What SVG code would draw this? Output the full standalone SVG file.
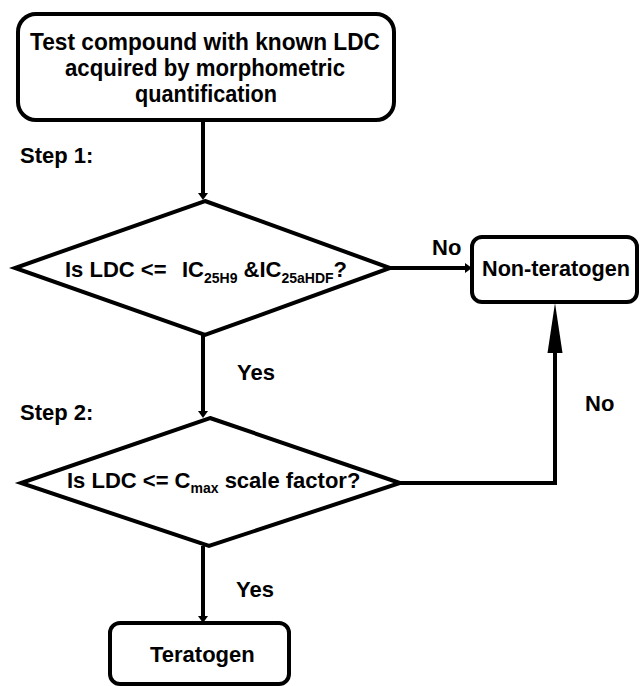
<svg xmlns="http://www.w3.org/2000/svg" width="640" height="686" viewBox="0 0 640 686">
<defs>
<style>
.shape{fill:#fff;stroke:#000;stroke-width:4;stroke-linejoin:miter}
.conn{fill:none;stroke:#000;stroke-width:4}
text{font-family:"Liberation Sans",Arial,sans-serif;font-weight:bold;fill:#000}
.t{font-size:24px;text-anchor:middle}
.lbl{font-size:22px}
.q{font-size:22px}
.sub{font-size:14px}
</style>
<marker id="arr" markerUnits="userSpaceOnUse" markerWidth="12" markerHeight="12" refX="0" refY="5" orient="auto" overflow="visible">
<path d="M0,0 L7,5 L0,10 Z" fill="#000"/>
</marker>
<marker id="bigarr" markerUnits="userSpaceOnUse" markerWidth="52" markerHeight="16" refX="0" refY="8" orient="auto" overflow="visible">
<path d="M0,0.5 L50,8 L0,15.5 Z" fill="#000"/>
</marker>
</defs>
<rect width="640" height="686" fill="#fff"/>

<g id="connectors">
<path class="conn" d="M203,120 V193" marker-end="url(#arr)"/>
<path class="conn" d="M390,268 H465" marker-end="url(#arr)"/>
<path class="conn" d="M203,335 V411" marker-end="url(#arr)"/>
<path class="conn" d="M400,483 H555 V353" marker-end="url(#bigarr)"/>
<path class="conn" d="M203,546 V616" marker-end="url(#arr)"/>
</g>

<g id="start">
<rect class="shape" x="18" y="14" width="376" height="106" rx="18" ry="18"/>
<text class="t" x="205" y="50" textLength="350" lengthAdjust="spacingAndGlyphs">Test compound with known LDC</text>
<text class="t" x="205" y="76" textLength="280" lengthAdjust="spacingAndGlyphs">acquired by morphometric</text>
<text class="t" x="206" y="102" textLength="142" lengthAdjust="spacingAndGlyphs">quantification</text>
</g>

<g id="step1label"><text class="lbl" x="20" y="163">Step 1:</text></g>

<g id="decision1">
<polygon class="shape" points="205,201 390,268 205,335 15,268"/>
<text class="q" y="277"><tspan x="65">Is LDC &lt;=</tspan><tspan x="182">IC</tspan><tspan class="sub" dy="6">25H9</tspan><tspan dy="-6"> &amp;IC</tspan><tspan class="sub" dy="6">25aHDF</tspan><tspan dy="-6">?</tspan></text>
</g>

<g id="nonteratogen">
<rect class="shape" x="472" y="237" width="165" height="65" rx="10" ry="10"/>
<text class="lbl" x="482" y="276" textLength="148" lengthAdjust="spacingAndGlyphs">Non-teratogen</text>
</g>

<g id="labels">
<text class="lbl" x="432" y="255">No</text>
<text class="lbl" x="237" y="380">Yes</text>
<text class="lbl" x="585" y="411">No</text>
<text class="lbl" x="236" y="597">Yes</text>
</g>

<g id="step2label"><text class="lbl" x="20" y="420">Step 2:</text></g>

<g id="decision2">
<polygon class="shape" points="210,418 400,483 209,546 21,483"/>
<text class="q" y="488"><tspan x="67">Is LDC &lt;= C</tspan><tspan class="sub" dy="5">max</tspan><tspan dy="-5"> scale factor?</tspan></text>
</g>

<g id="teratogen">
<rect class="shape" x="110" y="623" width="179" height="61" rx="10" ry="10"/>
<text class="lbl" x="150" y="662">Teratogen</text>
</g>
</svg>
